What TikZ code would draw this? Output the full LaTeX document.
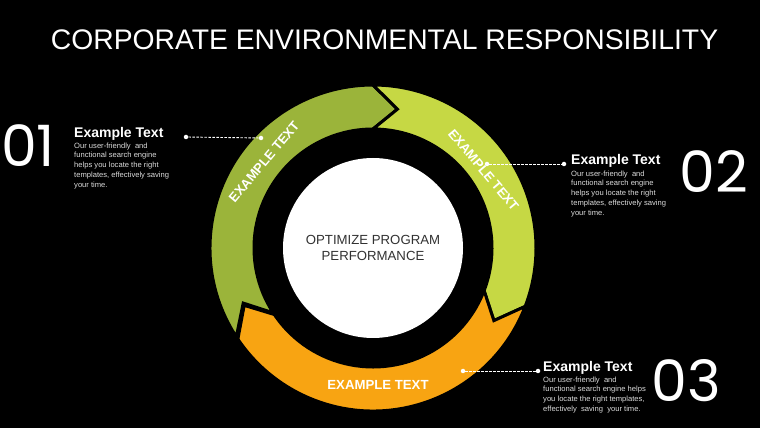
\documentclass[tikz,border=0pt]{standalone}
\usepackage{fontspec}
\setmainfont{Liberation Sans}
\newfontfamily\numfont{Poppins}
\definecolor{gA}{RGB}{155,180,58}
\definecolor{gB}{RGB}{198,216,68}
\definecolor{orA}{RGB}{248,164,18}
\definecolor{bodygray}{RGB}{220,220,220}
\definecolor{ctrtext}{RGB}{50,50,50}
\tikzset{
  ringpart/.style={draw=black, line width=3pt, line join=miter},
  bignum/.style={text=white, font=\numfont\fontsize{57}{57}\selectfont, inner sep=0pt, anchor=base west},
  headtxt/.style={text=white, font=\bfseries\fontsize{14}{16}\selectfont, inner sep=0pt, anchor=base west},
  bodytxt/.style={text=bodygray, font=\fontsize{7.6}{9.7}\selectfont, inner sep=0pt, anchor=north west, align=left},
  arctxt/.style={text=white, font=\bfseries\fontsize{13.2}{14}\selectfont, inner sep=0pt},
  leader/.style={white, line width=0.9pt, dash pattern=on 2.5pt off 1.5pt},
  dotnode/.style={circle, fill=white, inner sep=0pt, minimum size=4.5pt}
}
\newcommand\ringseg[3]{%
  \filldraw[ringpart, fill=#3]
    ([shift={(373,180)}]#1:163pt) arc[start angle=#1, end angle=#2+10, radius=163pt]
    -- ([shift={(373,180)}]#2:141pt)
    -- ([shift={(373,180)}]#2+10:119pt) arc[start angle=#2+10, end angle=#1, radius=119pt]
    -- ([shift={(373,180)}]#1-10:141pt) -- cycle;}
\begin{document}
\begin{tikzpicture}[x=1pt,y=1pt]
\fill[black] (0,0) rectangle (760,428);
\useasboundingbox (0,0) rectangle (760,428);

% title
\node[text=white, font=\fontsize{28.3}{30}\selectfont, inner sep=0pt] (title) at (384.5,388) {CORPORATE ENVIRONMENTAL RESPONSIBILITY};

% ring arrows
\ringseg{213}{80}{gA}
\ringseg{90}{-31}{gB}
\ringseg{-21}{-156}{orA}

% centre
\node[circle, fill=white, minimum size=180pt, inner sep=0pt] (hub) at (373,180) {};
\node[text=ctrtext, font=\fontsize{13.2}{16}\selectfont, align=center, inner sep=0pt] (hubtxt) at (373,180) {OPTIMIZE PROGRAM\\PERFORMANCE};

% arc labels
\node[arctxt, rotate=50] (lab1) at (264,266) {EXAMPLE TEXT};
\node[arctxt, rotate=-50] (lab2) at (483.5,258) {EXAMPLE TEXT};
\node[arctxt] (lab3) at (378,43) {EXAMPLE TEXT};

% numbers
\node[bignum] (n1) at (1,261) {01};
\node[bignum] (n2) at (679,235) {02};
\node[bignum] (n3) at (651,26) {03};

% headings
\node[headtxt] (h1) at (74,290) {Example Text};
\node[headtxt] (h2) at (571,263) {Example Text};
\node[headtxt] (h3) at (543,56) {Example Text};

% body
\node[bodytxt] (b1) at (74,285.5) {Our user-friendly\ \ and\\functional search engine\\helps you locate the right\\templates, effectively saving\\your time.};
\node[bodytxt] (b2) at (571,257.5) {Our user-friendly\ \ and\\functional search engine\\helps you locate the right\\templates, effectively saving\\your time.};
\node[bodytxt] (b3) at (543,51.5) {Our user-friendly\ \ and\\functional search engine helps\\you locate the right templates,\\effectively\ \ saving\ \ your time.};

% leaders
\node[dotnode] (d1a) at (186,291) {};
\node[dotnode] (d1b) at (261,290) {};
\node[dotnode] (d2a) at (487,264) {};
\node[dotnode] (d2b) at (564,264) {};
\node[dotnode] (d3a) at (463,57) {};
\node[dotnode] (d3b) at (538,57) {};
\draw[leader] (d1a) -- (d1b);
\draw[leader] (d2a) -- (d2b);
\draw[leader] (d3a) -- (d3b);
\end{tikzpicture}
\end{document}
